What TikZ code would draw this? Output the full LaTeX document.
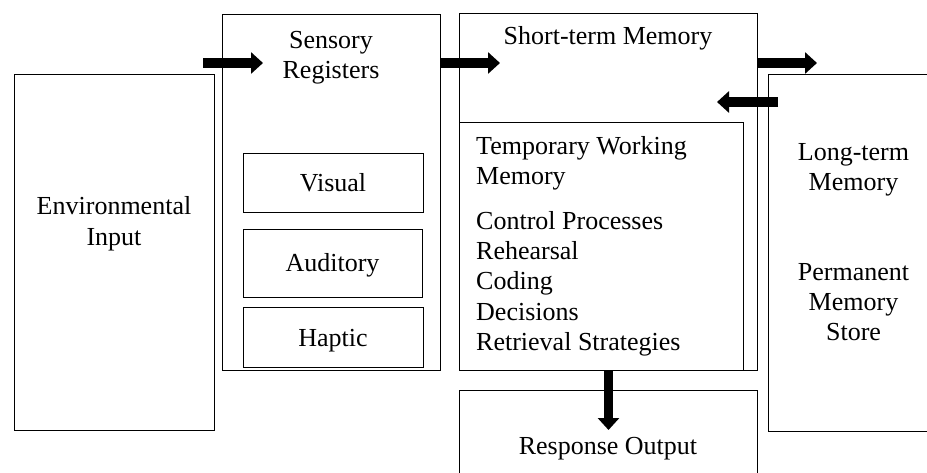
\documentclass[tikz,border=0pt]{standalone}
\usepackage{fontspec}
\setmainfont{Liberation Serif}
\usetikzlibrary{arrows.meta}
\begin{document}
\begin{tikzpicture}[x=1pt,y=-1pt,
  box/.style={draw, line width=1.1pt, inner sep=0pt, anchor=north west},
  lbl/.style={anchor=base, inner sep=0pt, font=\fontsize{26}{31}\selectfont},
  lbll/.style={lbl, anchor=base west},
  bigarrow/.style={line width=9.5pt, -{Triangle[length=12pt,width=21pt]}}]
\useasboundingbox (0,0) rectangle (927,473);
\clip (0,0) rectangle (927,473);

% boxes
\node[box, minimum width=200pt, minimum height=356pt] (env)  at (14,74)  {};
\node[box, minimum width=218pt, minimum height=356pt] (sens) at (222,14) {};
\node[box, minimum width=180pt, minimum height=59pt]  (vis)  at (243,153) {};
\node[box, minimum width=179pt, minimum height=68pt]  (aud)  at (243,229) {};
\node[box, minimum width=180pt, minimum height=60pt]  (hap)  at (243,307) {};
\node[box, minimum width=298pt, minimum height=357pt] (stm)  at (459,13) {};
\node[box, minimum width=284pt, minimum height=248pt] (wm)   at (459,122) {};
\node[box, minimum width=171pt, minimum height=357pt] (ltm)  at (768,74) {};
\node[box, minimum width=298pt, minimum height=100pt] (resp) at (459,390) {};

% labels
\node[lbl] (envt1) at (114,215) {Environmental};
\node[lbl] (envt2) at (114,246) {Input};
\node[lbl] (senst1) at (331,49) {Sensory};
\node[lbl] (senst2) at (331,79) {Registers};
\node[lbl] (vist) at (333,192) {Visual};
\node[lbl] (audt) at (332.5,272) {Auditory};
\node[lbl] (hapt) at (333,346.5) {Haptic};
\node[lbl] (stmt) at (608,45) {Short-term Memory};
\node[lbll] (wm1) at (476,155) {Temporary Working};
\node[lbll] (wm2) at (476,185) {Memory};
\node[lbll] (wm3) at (476,230) {Control Processes};
\node[lbll] (wm4) at (476,260) {Rehearsal};
\node[lbll] (wm5) at (476,290) {Coding};
\node[lbll] (wm6) at (476,320) {Decisions};
\node[lbll] (wm7) at (476,350) {Retrieval Strategies};
\node[lbl] (ltm1) at (853.5,161) {Long-term};
\node[lbl] (ltm2) at (853.5,191) {Memory};
\node[lbl] (ltm3) at (853.5,281) {Permanent};
\node[lbl] (ltm4) at (853.5,311) {Memory};
\node[lbl] (ltm5) at (853.5,341) {Store};
\node[lbl] (respt) at (608,454) {Response Output};

% arrow end points
\coordinate (a1s) at (203,63);
\coordinate (a1e) at (263,63);
\coordinate (a2s) at (440,63);
\coordinate (a2e) at (500,63);
\coordinate (a3s) at (757,63);
\coordinate (a3e) at (817,63);
\coordinate (a4s) at (778,102);
\coordinate (a4e) at (717,102);
\coordinate (a5s) at (608.5,370);
\coordinate (a5e) at (608.5,430);

\draw[bigarrow] (a1s) -- (a1e);
\draw[bigarrow] (a2s) -- (a2e);
\draw[bigarrow] (a3s) -- (a3e);
\draw[bigarrow] (a4s) -- (a4e);
\draw[bigarrow] (a5s) -- (a5e);
\end{tikzpicture}
\end{document}
